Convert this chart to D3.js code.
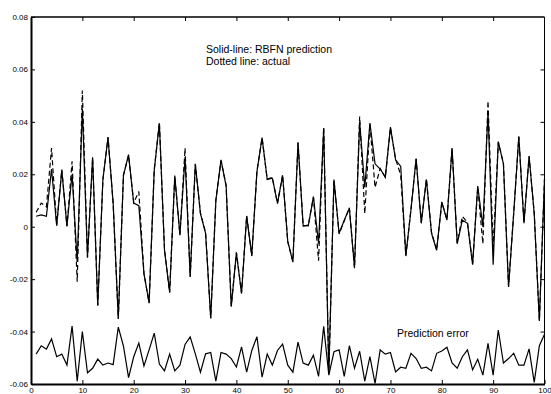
<!DOCTYPE html>
<html>
<head>
<meta charset="utf-8">
<script src="https://cdn.jsdelivr.net/npm/d3@7"></script>
<style>
  body { margin: 0; background: #fff; }
  svg { display: block; }
  text { font-family: "Liberation Sans", Arial, sans-serif; fill: #000; }
</style>
</head>
<body>
<div id="chart"></div>
<script>
// sample index 1..100
const steps = d3.range(1, 101);

// RBFN prediction (solid)
const prediction = [
  0.004, 0.0045, 0.004, 0.022, 0.0004, 0.0215, 0.0003, 0.02, -0.0135, 0.045,
  -0.0115, 0.0265, -0.030, 0.018, 0.034, 0.009, -0.035, 0.0195, 0.0275, 0.009,
  0.008, -0.018, -0.029, 0.0215, 0.0395, -0.009, -0.025, 0.0195, -0.003, 0.0265,
  -0.019, 0.024, 0.005, -0.0025, -0.035, 0.010, 0.0255, 0.0155, -0.0305, -0.010,
  -0.0255, 0.004, -0.011, 0.021, 0.034, 0.018, 0.0185, 0.009, 0.0195, -0.0055,
  -0.0135, 0.032, 0.0005, 0.0003, 0.0115, -0.0065, 0.0375, -0.056, 0.018, -0.0025,
  0.0025, 0.007, -0.0155, 0.040, 0.015, 0.0395, 0.024, 0.022, 0.019, 0.038,
  0.0255, 0.023, -0.011, 0.0065, 0.026, 0.0013, 0.018, -0.0025, -0.009, 0.0095,
  0.0025, 0.030, -0.0065, 0.0025, 0.0013, -0.0145, 0.0155, 0.000, 0.044, -0.0145,
  0.0325, 0.024, -0.023, 0.005, 0.0345, 0.0013, 0.027, 0.005, -0.036, 0.018
];

// actual values (dashed)
const actual = [
  0.0055, 0.009, 0.0076, 0.030, 0.0006, 0.0218, 0.0001, 0.025, -0.021, 0.052,
  -0.0118, 0.0262, -0.030, 0.0178, 0.0342, 0.0088, -0.0352, 0.0197, 0.0272, 0.0092,
  0.0134, -0.0178, -0.0292, 0.0218, 0.0398, -0.0088, -0.0252, 0.0192, -0.0032, 0.030,
  -0.0192, 0.0238, 0.0052, -0.0022, -0.0348, 0.0102, 0.0252, 0.0158, -0.0302, -0.0098,
  -0.0252, 0.0042, -0.0112, 0.0212, 0.0338, 0.0182, 0.0188, 0.0088, 0.0198, -0.0058,
  -0.0132, 0.0322, 0.0002, 0.0006, 0.0112, -0.013, 0.038, -0.0558, 0.0178, -0.0028,
  0.0022, 0.0072, -0.0158, 0.042, 0.005, 0.0392, 0.015, 0.0222, 0.0188, 0.0378,
  0.0258, 0.0197, -0.0112, 0.0068, 0.0258, 0.0016, 0.0182, -0.0022, -0.0088, 0.0092,
  0.0028, 0.0298, -0.0062, 0.004, 0.0016, -0.0142, 0.0152, -0.0065, 0.048, -0.008,
  0.0322, 0.0242, -0.0228, 0.0052, 0.0342, 0.0016, 0.0268, 0.0052, -0.0358, 0.0182
];

// prediction error, shown shifted down near -0.05
const predError = [
  -0.0486, -0.0454, -0.0467, -0.0428, -0.0496, -0.0486, -0.0528, -0.0379, -0.0589, -0.040,
  -0.0557, -0.054, -0.0505, -0.0528, -0.052, -0.0526, -0.0383, -0.0455, -0.0576, -0.0496,
  -0.0444, -0.0531, -0.047, -0.0406, -0.0524, -0.055, -0.0486, -0.055, -0.0528, -0.0449,
  -0.042, -0.0485, -0.0555, -0.0485, -0.048, -0.0589, -0.048, -0.0486, -0.0503, -0.0535,
  -0.0458, -0.0555, -0.0472, -0.042, -0.0574, -0.0486, -0.0528, -0.0472, -0.0448, -0.0528,
  -0.0555, -0.044, -0.052, -0.0528, -0.049, -0.0571, -0.038, -0.0566, -0.0477, -0.047,
  -0.0571, -0.0454, -0.054, -0.0475, -0.0589, -0.0496, -0.0598, -0.047, -0.0486, -0.048,
  -0.0554, -0.0536, -0.054, -0.0483, -0.0503, -0.054, -0.0536, -0.055, -0.0483, -0.0474,
  -0.046, -0.052, -0.054, -0.0496, -0.047, -0.0546, -0.0506, -0.0566, -0.0445, -0.0566,
  -0.0394, -0.052, -0.0503, -0.0483, -0.0528, -0.0528, -0.0466, -0.0594, -0.0454, -0.041
];

const xTicks = [0, 10, 20, 30, 40, 50, 60, 70, 80, 90, 100];
const yTicks = [-0.06, -0.04, -0.02, 0, 0.02, 0.04, 0.06, 0.08];
const yTickLabels = ["-0.06", "-0.04", "-0.02", "0", "0.02", "0.04", "0.06", "0.08"];

const legendLines = ["Solid-line: RBFN prediction", "Dotted line: actual"];
const errorLabel = "Prediction error";

const width = 551, height = 394;
const plot = {left: 31, right: 544.5, top: 17, bottom: 384};

const svg = d3.select("#chart").append("svg")
  .attr("width", width)
  .attr("height", height);

const x = d3.scaleLinear().domain([0, 100]).range([plot.left, plot.right]);
const y = d3.scaleLinear().domain([-0.06, 0.08]).range([plot.bottom, plot.top]);

// frame
svg.append("line").attr("x1", plot.left).attr("x2", plot.right).attr("y1", plot.top).attr("y2", plot.top)
  .attr("stroke", "#000").attr("stroke-width", 1.5);
svg.append("line").attr("x1", plot.right).attr("x2", plot.right).attr("y1", plot.top).attr("y2", plot.bottom)
  .attr("stroke", "#000").attr("stroke-width", 1);

// axes, ticks inward like the original
const bottomAxis = d3.axisBottom(x).tickValues(xTicks).tickSizeInner(-4).tickSizeOuter(0)
  .tickFormat(d3.format("d"));
const gx = svg.append("g").attr("transform", "translate(0," + plot.bottom + ")").call(bottomAxis);
gx.select(".domain").attr("stroke-width", 2);
gx.selectAll("text").attr("font-size", 8).attr("dy", null).attr("y", 9);

const leftAxis = d3.axisLeft(y).tickValues(yTicks).tickSizeInner(-4).tickSizeOuter(0)
  .tickFormat((d, i) => yTickLabels[i]);
const gy = svg.append("g").attr("transform", "translate(" + plot.left + ",0)").call(leftAxis);
gy.select(".domain").attr("stroke-width", 2);
gy.selectAll("text").attr("font-size", 8).attr("x", -3);

// top and right inward ticks
svg.append("g").attr("transform", "translate(0," + plot.top + ")")
  .call(d3.axisTop(x).tickValues(xTicks.slice(1, -1)).tickSizeInner(-4).tickSizeOuter(0).tickFormat(""))
  .select(".domain").remove();
svg.append("g").attr("transform", "translate(" + plot.right + ",0)")
  .call(d3.axisRight(y).tickValues(yTicks.slice(1, -1)).tickSizeInner(-4).tickSizeOuter(0).tickFormat(""))
  .select(".domain").remove();

const line = d3.line()
  .x((d, i) => x(steps[i]))
  .y(d => y(d));

svg.append("path")
  .datum(actual)
  .attr("fill", "none")
  .attr("stroke", "#000")
  .attr("stroke-width", 1.2)
  .attr("stroke-dasharray", "5,3")
  .attr("d", line);

svg.append("path")
  .datum(prediction)
  .attr("fill", "none")
  .attr("stroke", "#000")
  .attr("stroke-width", 1.2)
  .attr("d", line);

svg.append("path")
  .datum(predError)
  .attr("fill", "none")
  .attr("stroke", "#000")
  .attr("stroke-width", 1.2)
  .attr("d", line);

// annotations
svg.append("g").selectAll("text")
  .data(legendLines)
  .join("text")
  .attr("x", 206)
  .attr("y", (d, i) => 53 + i * 11.5)
  .attr("font-size", 10.5)
  .text(d => d);

svg.append("text")
  .attr("x", 397)
  .attr("y", 337)
  .attr("font-size", 10.5)
  .text(errorLabel);
</script>
</body>
</html>
